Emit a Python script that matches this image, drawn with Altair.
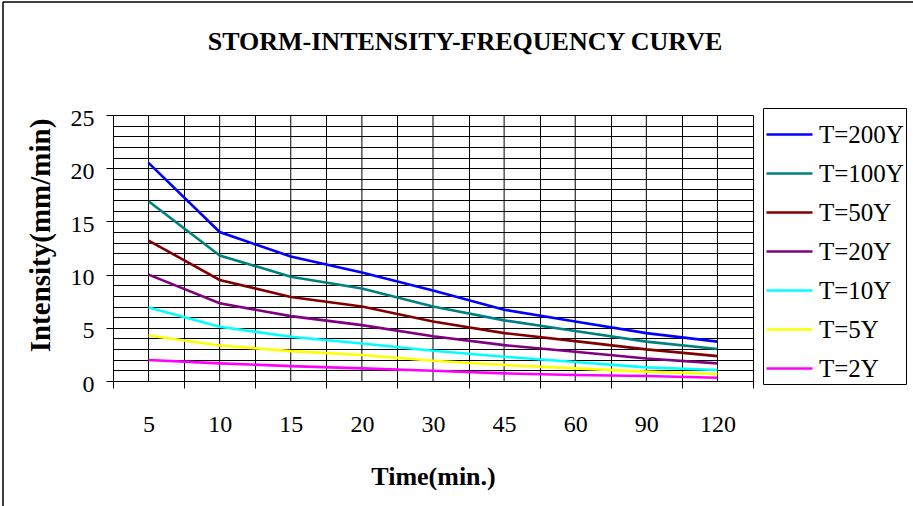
import altair as alt
import pandas as pd

durations = ["5", "10", "15", "20", "30", "45", "60", "90", "120"]
series_names = ["T=200Y", "T=100Y", "T=50Y", "T=20Y", "T=10Y", "T=5Y", "T=2Y"]
series_colors = ["#0000FF", "#008080", "#800000", "#800080", "#00FFFF", "#FFFF00", "#FF00FF"]

t200 = [20.5, 14.0, 11.7, 10.2, 8.5, 6.7, 5.6, 4.5, 3.7]
t100 = [16.9, 11.8, 9.8, 8.7, 7.0, 5.7, 4.7, 3.7, 3.0]
t50 = [13.2, 9.5, 7.9, 7.0, 5.6, 4.5, 3.75, 2.97, 2.34]
t20 = [10.0, 7.3, 6.1, 5.25, 4.2, 3.37, 2.75, 2.12, 1.66]
t10 = [6.9, 5.1, 4.16, 3.53, 2.85, 2.28, 1.78, 1.28, 1.03]
t5 = [4.28, 3.34, 2.81, 2.44, 1.9, 1.5, 1.19, 0.88, 0.66]
t2 = [1.97, 1.66, 1.4, 1.19, 0.96, 0.72, 0.56, 0.47, 0.31]

y_ticks = list(range(0, 26))
title_text = "STORM-INTENSITY-FREQUENCY CURVE"

all_series = [t200, t100, t50, t20, t10, t5, t2]
rows = []
for name, vals in zip(series_names, all_series):
    for i, (d, v) in enumerate(zip(durations, vals)):
        rows.append({"Time": d, "Intensity": v, "Series": name, "idx": i})
df = pd.DataFrame(rows)

FONT = "Liberation Serif, Times New Roman, serif"

x_enc = alt.X(
    "Time:O",
    sort=durations,
    bandPosition=0.5,
    scale=alt.Scale(type="band", paddingInner=0, paddingOuter=0),
    axis=alt.Axis(
        title="Time(min.)",
        labelAngle=0,
        labelAlign="center",
        tickBand="extent",
        grid=True,
        gridColor="#000000",
        gridWidth=1,
        gridOpacity=1,
        domainColor="#000000",
        domainWidth=1,
        tickColor="#000000",
        tickSize=7,
        labelFont=FONT,
        labelFontSize=24,
        labelColor="#000000",
        labelPadding=36,
        titleFont=FONT,
        titleFontSize=26,
        titleFontWeight="bold",
        titleColor="#000000",
        titleBaseline="alphabetic",
        titleY=103,
    ),
)

y_enc = alt.Y(
    "Intensity:Q",
    scale=alt.Scale(domain=[0, 25], nice=False, zero=True),
    axis=alt.Axis(
        title="Intensity(mm/min)",
        values=y_ticks,
        grid=True,
        gridColor="#000000",
        gridWidth=1,
        gridOpacity=1,
        domainColor="#000000",
        domainWidth=1,
        tickColor="#000000",
        tickSize=7,
        tickOpacity={"condition": {"test": "datum.value % 5 === 0", "value": 1}, "value": 0},
        labelExpr="datum.value % 5 === 0 ? datum.label : ''",
        labelFont=FONT,
        labelFontSize=24,
        labelColor="#000000",
        labelPadding=12,
        labelOffset=3,
        titleFont=FONT,
        titleFontSize=29,
        titleFontWeight="bold",
        titleColor="#000000",
        titleAngle=270,
        titleAlign="center",
        titleBaseline="middle",
        titleX=-73,
        titleY=120,
    ),
)

center_rules = alt.Chart(pd.DataFrame({"Time": durations})).mark_rule(
    color="#000000", strokeWidth=1
).encode(
    x=alt.X("Time:O", sort=durations, bandPosition=0.5)
)

lines = alt.Chart(df).mark_line(strokeWidth=2.6).encode(
    x=x_enc,
    y=y_enc,
    color=alt.Color(
        "Series:N",
        scale=alt.Scale(domain=series_names, range=series_colors),
        legend=alt.Legend(
            title=None,
            orient="none",
            legendX=650,
            legendY=-7,
            direction="vertical",
            strokeColor="#000000",
            fillColor="#FFFFFF",
            padding=2,
            symbolType="stroke",
            symbolSize=2116,
            symbolStrokeWidth=2.6,
            labelFont=FONT,
            labelFontSize=25,
            labelColor="#000000",
            labelOffset=5,
            rowPadding=1,
            labelLimit=300,
        ),
    ),
    detail="Series:N",
    order=alt.Order("idx:Q"),
)

one = alt.Data(values=[{"a": 1}])
border_left = alt.Chart(one).mark_rule(color="#000000", strokeWidth=1.5).encode(
    x=alt.value(-110), y=alt.value(-113), y2=alt.value(400)
)
border_top = alt.Chart(one).mark_rule(color="#000000", strokeWidth=1.5).encode(
    x=alt.value(-110), x2=alt.value(820), y=alt.value(-113)
)
title_mark = alt.Chart(one).mark_text(
    text=title_text,
    font=FONT,
    fontSize=26,
    fontWeight="bold",
    color="#000000",
    align="center",
    baseline="alphabetic",
).encode(x=alt.value(352), y=alt.value(-65))

chart = alt.layer(center_rules, lines, border_left, border_top, title_mark).properties(
    width=640,
    height=266,
    autosize=alt.AutoSizeParams(type="none"),
    padding={"left": 113, "top": 115, "right": 160, "bottom": 125},
).configure_view(
    fill="#C0C0C0", stroke="#808080", strokeWidth=1.5
).configure(background="#FFFFFF", font=FONT)

chart.save("out.html", embed_options={"renderer": "svg", "actions": False})
